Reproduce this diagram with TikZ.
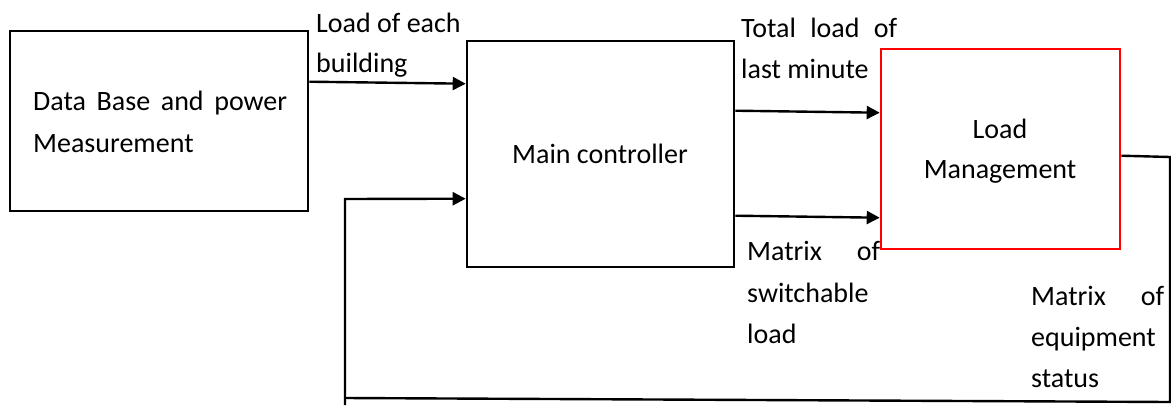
\documentclass[tikz,border=0pt]{standalone}
\usepackage{fontspec}
\setmainfont{Carlito}
\usetikzlibrary{arrows.meta}
\begin{document}
\begin{tikzpicture}[x=1pt,y=-1pt,
  blockbox/.style={draw=black,line width=2.6pt,rectangle,inner sep=0pt},
  redbox/.style={draw=red,line width=2.6pt,rectangle,inner sep=0pt},
  flow/.style={line width=2.4pt,-{Triangle[length=13pt,width=13pt]}},
  wire/.style={line width=2.4pt},
  txt/.style={inner sep=0pt,anchor=base west,font=\fontsize{28pt}{41pt}\selectfont},
  ctxt/.style={txt,anchor=base}]
\useasboundingbox (0,0) rectangle (1171,405);

% blocks
\node[blockbox,minimum width=298pt,minimum height=180pt] (db) at (159,121) {};
\node[blockbox,minimum width=267pt,minimum height=226pt] (mc) at (600.5,154) {};
\node[redbox,minimum width=239pt,minimum height=200pt] (lm) at (1000.5,149) {};

% block texts
\node[txt] (db1) at (33,110) {\makebox[254pt][s]{Data Base and power}};
\node[txt] (db2) at (33,152) {Measurement};
\node[ctxt] (mc1) at (600,163) {Main controller};
\node[ctxt] (lm1) at (1000,138) {Load};
\node[ctxt] (lm2) at (1000,178) {Management};

% forward connectors
\draw[flow] ([yshift=-52pt]db.north east) -- ([yshift=-44pt]mc.north west);
\draw[flow] ([yshift=-71pt]mc.north east) -- ([yshift=-65pt]lm.north west);
\draw[flow] ([yshift=-176pt]mc.north east) -- ([yshift=-170pt]lm.north west);

% feedback loop
\coordinate (fr) at (1170,157);
\coordinate (fbr) at (1170,402);
\coordinate (fbl) at (345,398);
\coordinate (ftl) at (345,199);
\coordinate (fend) at (345,405);
\draw[wire] ([yshift=-108pt]lm.north east) -- (fr) -- (fbr) -- (fbl);
\draw[flow] (fend) -- (ftl) -- ([yshift=-159pt]mc.north west);

% connector labels
\node[txt] (l1a) at (316,32) {Load of each};
\node[txt] (l1b) at (316,72) {building};
\node[txt] (l2a) at (741,37) {\makebox[156pt][s]{Total load of}};
\node[txt] (l2b) at (741,78) {last minute};
\node[txt] (l3a) at (747,260) {\makebox[133pt][s]{Matrix of}};
\node[txt] (l3b) at (747,302) {switchable};
\node[txt] (l3c) at (747,343) {load};
\node[txt] (l4a) at (1031,305) {\makebox[133pt][s]{Matrix of}};
\node[txt] (l4b) at (1031,346) {equipment};
\node[txt] (l4c) at (1031,387) {status};
\end{tikzpicture}
\end{document}
